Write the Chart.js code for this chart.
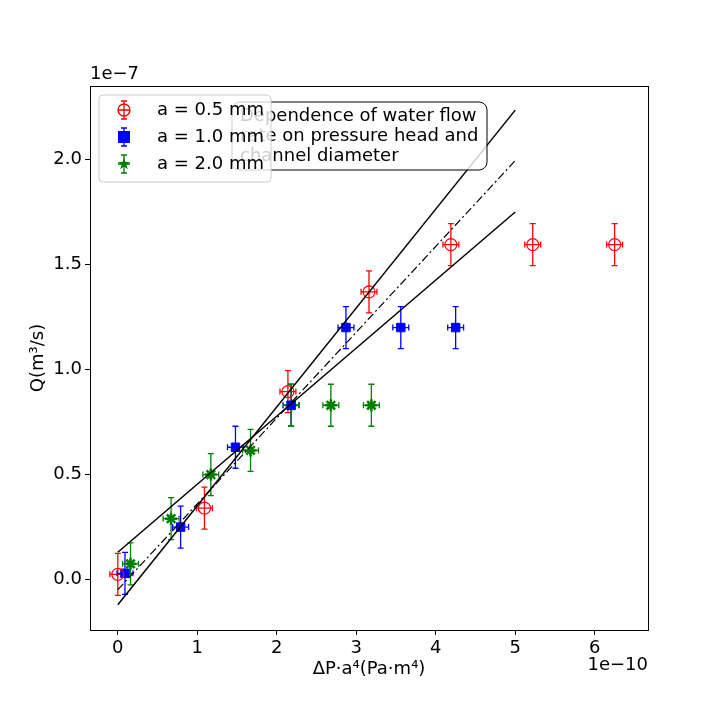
<!DOCTYPE html>
<html><head><script src="https://cdn.jsdelivr.net/npm/chart.js@4"></script>
<style>body{margin:0;background:#fff}</style></head>
<body><canvas id="c" width="720" height="720"></canvas>
<script>
const redX=[0.0,1.09,2.14,3.16,4.19,5.22,6.25], redY=[0.025,0.34,0.895,1.37,1.595,1.595,1.595];
const blueX=[0.09,0.79,1.48,2.18,2.87,3.56,4.25], blueY=[0.03,0.25,0.63,0.83,1.2,1.2,1.2];
const greenX=[0.16,0.67,1.17,1.67,2.18,2.68,3.19], greenY=[0.075,0.29,0.5,0.615,0.83,0.83,0.83];
const xErr=0.1, yErr=0.1;
const fitX=[0,5];
const fitSteep=[-0.12,2.235], fitMid=[-0.048,1.995], fitShallow=[0.13,1.75];
const xTicks=[0,1,2,3,4,5,6], yTicks=[0,0.5,1,1.5,2];
const F='"DejaVu Sans"';
const pts=(xs,ys)=>xs.map((x,i)=>({x,y:ys[i]}));
const errPlugin={id:'err',beforeDatasetsDraw(ch){
 const c=ch.ctx,xs=ch.scales.x,ys=ch.scales.y;
 ch.data.datasets.forEach(d=>{ if(!d.err) return;
  c.save();c.strokeStyle=d.errColor;c.lineWidth=1.3;
  d.data.forEach(p=>{const px=xs.getPixelForValue(p.x),py=ys.getPixelForValue(p.y);
   const y1=ys.getPixelForValue(p.y-yErr),y2=ys.getPixelForValue(p.y+yErr);
   const x1=xs.getPixelForValue(p.x-xErr),x2=xs.getPixelForValue(p.x+xErr);
   c.beginPath();c.moveTo(px,y1);c.lineTo(px,y2);c.moveTo(px-3,y1);c.lineTo(px+3,y1);c.moveTo(px-3,y2);c.lineTo(px+3,y2);
   c.moveTo(x1,py);c.lineTo(x2,py);c.moveTo(x1,py-3);c.lineTo(x1,py+3);c.moveTo(x2,py-3);c.lineTo(x2,py+3);c.stroke();});
  c.restore();});
},afterDraw(ch){
 const c=ch.ctx,a=ch.chartArea;
 c.save();c.strokeStyle='#000';c.lineWidth=1;c.strokeRect(a.left+0.5,a.top+0.5,a.right-a.left,a.bottom-a.top);
 c.fillStyle='#000';c.font='18px '+F;
 c.textAlign='left';c.textBaseline='bottom';c.fillText('1e\u22127',a.left,a.top-3);
 c.textAlign='right';c.textBaseline='top';c.fillText('1e\u221210',a.right,a.bottom+26);
 c.textAlign='center';c.textBaseline='middle';c.fillText('ΔP·a⁴(Pa·m⁴)',369,669);
 c.save();c.translate(38,358);c.rotate(-Math.PI/2);c.fillText('Q(m³/s)',0,0);c.restore();
 c.beginPath();c.roundRect(232,102,255,68,8);c.fillStyle='rgba(255,255,255,0.8)';c.fill();c.strokeStyle='#000';c.lineWidth=1;c.stroke();
 c.fillStyle='#000';c.textAlign='left';c.textBaseline='middle';
 ['Dependence of water flow','rate on pressure head and','channel diameter'].forEach((t,i)=>c.fillText(t,240,116+i*20));
 c.beginPath();c.roundRect(99,95,172,87,4);c.fillStyle='rgba(255,255,255,0.8)';c.fill();c.strokeStyle='#ccc';c.stroke();
 const items=[['a = 0.5 mm','red','circle'],['a = 1.0 mm','blue','rect'],['a = 2.0 mm','green','star']];
 items.forEach((it,i)=>{const x=124,y=110+i*27;c.strokeStyle=it[1];c.lineWidth=1.3;
  c.beginPath();c.moveTo(x,y-9);c.lineTo(x,y+9);c.moveTo(x-3,y-9);c.lineTo(x+3,y-9);c.moveTo(x-3,y+9);c.lineTo(x+3,y+9);
  c.moveTo(x-6,y);c.lineTo(x+6,y);c.stroke();
  c.beginPath();
  if(it[2]==='circle'){c.arc(x,y,6,0,7);c.stroke();}
  else if(it[2]==='rect'){c.fillStyle='blue';c.fillRect(x-6,y-6,12,12);}
  else{c.fillStyle='green';for(let k=0;k<10;k++){const r=k%2?2.5:6.5,an=-Math.PI/2+k*Math.PI/5;c.lineTo(x+r*Math.cos(an),y+r*Math.sin(an));}c.fill();}
  c.fillStyle='#000';c.textAlign='left';c.fillText(it[0],157,y);});
 c.restore();}};
new Chart(document.getElementById('c'),{type:'scatter',
 data:{datasets:[
  {data:pts(fitX,fitSteep),showLine:true,borderColor:'#000',borderWidth:1.5,pointRadius:0},
  {data:pts(fitX,fitMid),showLine:true,borderColor:'#000',borderWidth:1.2,borderDash:[8,3,2,3],pointRadius:0},
  {data:pts(fitX,fitShallow),showLine:true,borderColor:'#000',borderWidth:1.5,pointRadius:0},
  {data:pts(redX,redY),err:1,errColor:'red',pointStyle:'circle',pointRadius:6,borderColor:'red',backgroundColor:'rgba(0,0,0,0)',borderWidth:1.2},
  {data:pts(blueX,blueY),err:1,errColor:'blue',pointStyle:'rect',pointRadius:6,borderColor:'blue',backgroundColor:'blue'},
  {data:pts(greenX,greenY),err:1,errColor:'green',pointStyle:'star',pointRadius:6,borderColor:'green',backgroundColor:'green',borderWidth:2.5}
 ]},
 plugins:[errPlugin],
 options:{responsive:false,animation:false,events:[],
  layout:{padding:{top:86,right:72,left:0,bottom:0}},
  plugins:{legend:{display:false},tooltip:{enabled:false}},
  scales:{
   x:{type:'linear',min:-0.35,max:6.67,afterFit(s){s.height=90;},grid:{drawOnChartArea:false,drawTicks:true,tickLength:5,color:'#000'},border:{color:'#000'},
    ticks:{color:'#000',font:{family:F,size:18},padding:3,callback:v=>String(v)},
    afterBuildTicks(s){s.ticks=xTicks.map(v=>({value:v}));}},
   y:{type:'linear',min:-0.24,max:2.35,afterFit(s){s.width=90;},grid:{drawOnChartArea:false,drawTicks:true,tickLength:5,color:'#000'},border:{color:'#000'},
    afterBuildTicks(s){s.ticks=yTicks.map(v=>({value:v}));},
    ticks:{color:'#000',font:{family:F,size:18},padding:3,callback:v=>v.toFixed(1)}}
  }}});
</script></body></html>
